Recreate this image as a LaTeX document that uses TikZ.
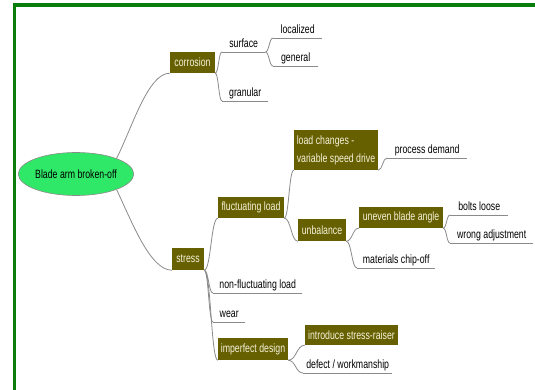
\documentclass[tikz,border=0pt]{standalone}
\usepackage{fontspec}
\setmainfont{Liberation Sans}[FakeStretch=0.73]
\usetikzlibrary{calc,shapes.geometric}
\definecolor{frame}{HTML}{0B7D0B}
\definecolor{olivebox}{HTML}{666000}
\definecolor{cream}{HTML}{F6F2DC}
\definecolor{rootgreen}{HTML}{30E868}
\definecolor{linegrey}{HTML}{8A8A8A}
\newcommand\mmfont{\fontsize{12}{14}\selectfont}
\tikzset{
  box/.style={fill=olivebox, text=cream, inner sep=0pt, font=\mmfont},
  leaf/.style={anchor=south west, inner xsep=0pt, inner ysep=1.5pt, text height=8.5pt, text depth=2.5pt, font=\mmfont, text=black},
  con/.style={draw=linegrey, line width=0.8pt},
  ul/.style={draw=linegrey, line width=0.8pt},
  rootnode/.style={ellipse, fill=rootgreen, draw=linegrey, line width=0.6pt, inner sep=0pt, font=\mmfont}
}
\newcommand\mmedge[2]{\draw[con] let \p1=(#1), \p2=(#2) in (\p1) .. controls ({(\x1+\x2)/2},\y1) and ({(\x1+\x2)/2},\y2) .. (\p2);}
\begin{document}
\begin{tikzpicture}[x=1pt,y=-1pt]
\useasboundingbox (0,0) rectangle (535,390);
\fill[white] (0,0) rectangle (535,390);
% frame
\fill[frame] (13,3) rectangle (535,7);
\fill[frame] (13,3) rectangle (16,390);

% root
\node[rootnode, minimum width=97pt, minimum height=43pt] (root) at (76,174) {Blade arm broken-off};

% boxes
\node[box, minimum width=45pt, minimum height=21pt] (corr) at (192.5,62.5) {corrosion};
\node[box, minimum width=32pt, minimum height=22pt] (stress) at (188,259) {stress};
\node[box, minimum width=66pt, minimum height=21pt] (fluct) at (251,207.5) {fluctuating load};
\node[box, minimum width=70pt, minimum height=22pt] (imperf) at (253,349) {imperfect design};
\node[box, minimum width=84pt, minimum height=40pt, align=left] (loadch) at (336,150) {load changes -\\[4pt]variable speed drive};
\node[box, minimum width=48pt, minimum height=22pt] (unbal) at (322,230) {unbalance};
\node[box, minimum width=84pt, minimum height=21pt] (uneven) at (401,217.5) {uneven blade angle};
\node[box, minimum width=93pt, minimum height=20pt] (raiser) at (351.5,335) {introduce stress-raiser};

% leaves (anchored at the left end of their underline)
\node[leaf, minimum width=43pt] (surface) at (222,52) {surface};
\node[leaf, minimum width=46pt] (granular) at (222,101) {granular};
\node[leaf, minimum width=49pt] (localized) at (273,38) {localized};
\node[leaf, minimum width=45pt] (general) at (273,66) {general};
\node[leaf, minimum width=89pt] (nonfluct) at (213,293) {non-fluctuating load};
\node[leaf, minimum width=32pt] (wear) at (213,322) {wear};
\node[leaf, minimum width=80pt] (procdem) at (387,158) {process demand};
\node[leaf, minimum width=78pt] (chipoff) at (357,268) {materials chip-off};
\node[leaf, minimum width=58pt] (bolts) at (450,215) {bolts loose};
\node[leaf, minimum width=83pt] (wrongadj) at (450,243) {wrong adjustment};
\node[leaf, minimum width=89pt] (defect) at (303,373) {defect / workmanship};

% underlines
\foreach \n in {surface,granular,localized,general,nonfluct,wear,procdem,chipoff,bolts,wrongadj,defect}
  \draw[ul] (\n.south west) -- (\n.south east);

% root connectors
\draw[con] (root.21) .. controls (132,128) and (148,73) .. (corr.south west);
\draw[con] (root.-21) .. controls (132,222) and (150,270) .. (stress.south west);

% branch connectors
\mmedge{corr.south east}{surface.south west}
\mmedge{corr.south east}{granular.south west}
\mmedge{surface.south east}{localized.south west}
\mmedge{surface.south east}{general.south west}
\mmedge{stress.south east}{fluct.south west}
\mmedge{stress.south east}{nonfluct.south west}
\mmedge{stress.south east}{wear.south west}
\mmedge{stress.south east}{imperf.south west}
\mmedge{fluct.south east}{loadch.south west}
\mmedge{fluct.south east}{unbal.south west}
\mmedge{loadch.south east}{procdem.south west}
\mmedge{unbal.south east}{uneven.south west}
\mmedge{unbal.south east}{chipoff.south west}
\mmedge{uneven.south east}{bolts.south west}
\mmedge{uneven.south east}{wrongadj.south west}
\mmedge{imperf.south east}{raiser.south west}
\mmedge{imperf.south east}{defect.south west}
\end{tikzpicture}
\end{document}
